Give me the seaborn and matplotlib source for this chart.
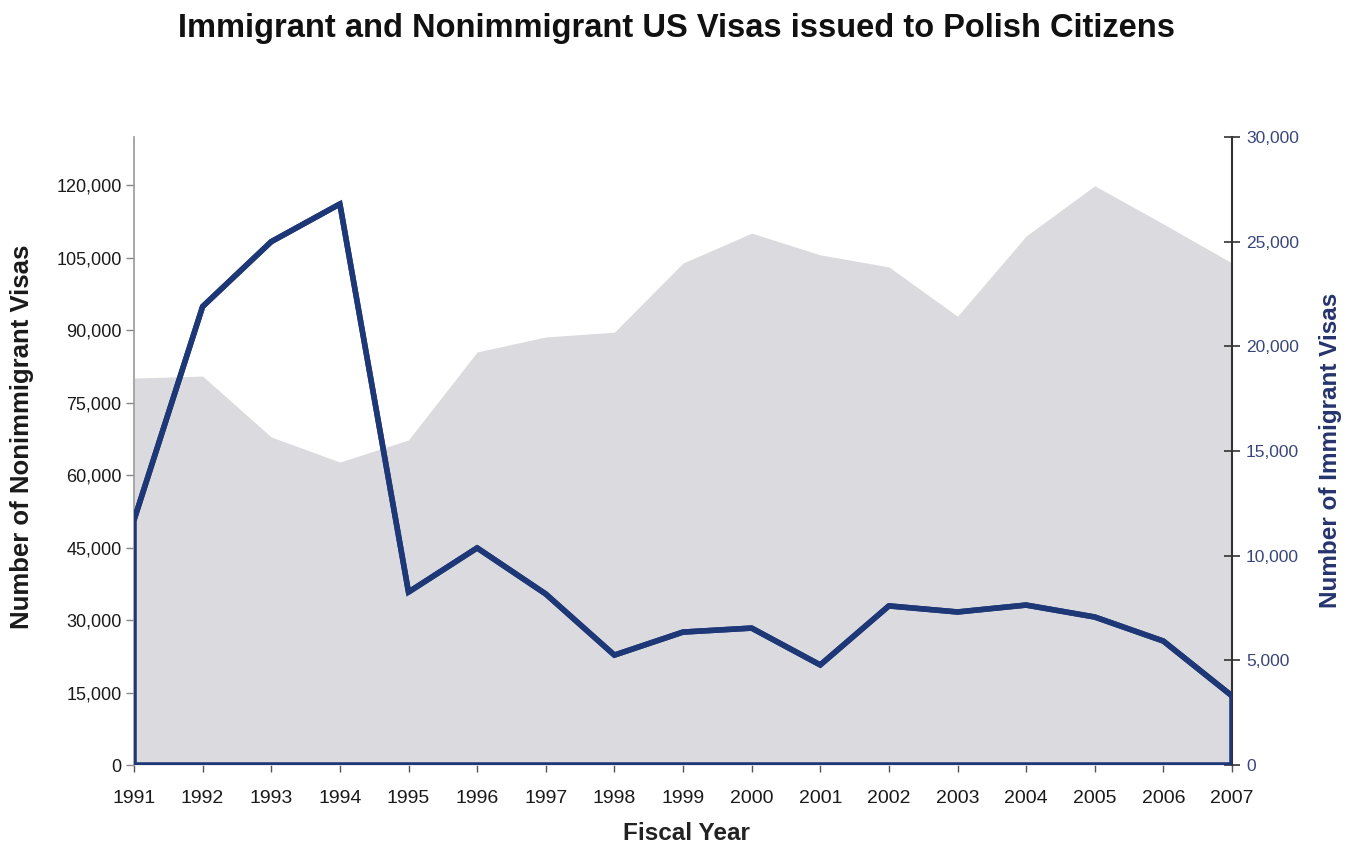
import matplotlib
matplotlib.use("Agg")
import matplotlib.pyplot as plt
import seaborn as sns
import numpy as np
import pandas as pd
from matplotlib.ticker import FuncFormatter, FixedLocator

years = [1991, 1992, 1993, 1994, 1995, 1996, 1997, 1998, 1999,
         2000, 2001, 2002, 2003, 2004, 2005, 2006, 2007]
nonimmigrant = [80100, 80500, 67900, 62700, 67300, 85500, 88600, 89600, 103900,
                110100, 105600, 103100, 92900, 109500, 119900, 112000, 103900]
immigrant = [11700, 21900, 25000, 26800, 8260, 10370, 8170, 5250, 6350,
             6540, 4780, 7600, 7310, 7640, 7070, 5920, 3300]
left_ticks = [0, 15000, 30000, 45000, 60000, 75000, 90000, 105000, 120000]
right_ticks = [0, 5000, 10000, 15000, 20000, 25000, 30000]

df = pd.DataFrame({"year": years, "nonimm": nonimmigrant, "imm": immigrant})

sns.set_theme(style="white")
plt.rcParams["font.family"] = ["Liberation Sans", "DejaVu Sans"]

NAVY = "#1d3777"
GRAY = "#dadadf"

fig = plt.figure(figsize=(13.52, 8.49), dpi=100)
ax = fig.add_axes([134/1352, 1 - 765/849, (1232-134)/1352, (765-137)/849])

ax.fill_between(df["year"], df["nonimm"], 0, color=GRAY, lw=0, zorder=1)
ax.set_xlim(1991, 2007)
ax.set_ylim(0, 130000)
ax.yaxis.set_major_locator(FixedLocator(left_ticks))
fmt = FuncFormatter(lambda v, p: f"{int(v):,}")
ax.yaxis.set_major_formatter(fmt)
ax.set_xticks(years)
ax.set_xticklabels([str(y) for y in years])

ax2 = ax.twinx()
ax2.set_ylim(0, 30000)
ax2.yaxis.set_major_locator(FixedLocator(right_ticks))
ax2.yaxis.set_major_formatter(fmt)
ax2.fill_between(df["year"], df["imm"], 0, facecolor="none", edgecolor=NAVY,
                 lw=4.0, joinstyle="miter", zorder=3)
sns.lineplot(data=df, x="year", y="imm", ax=ax2, color=NAVY, lw=4.0, zorder=4)
ax2.set_xlim(1991, 2007)
ax2.set_ylabel("")
ax.set_xlabel("")
ax.set_ylabel("")

for a in (ax, ax2):
    a.spines["top"].set_visible(False)
    a.spines["bottom"].set_visible(False)
ax2.spines["left"].set_visible(False)
ax.spines["right"].set_visible(False)
ax.spines["left"].set_color("#9a9a9a")
ax.spines["left"].set_linewidth(1.2)
ax2.spines["right"].set_color("#333333")
ax2.spines["right"].set_linewidth(1.5)

ax.tick_params(axis="y", which="major", left=True, length=6, width=1,
               color="#888888", labelsize=13, labelcolor="#1a1a1a", pad=3)
ax.tick_params(axis="x", which="major", bottom=True, length=5, width=1,
               color="#555555", labelsize=14, labelcolor="#1a1a1a", pad=13)
ax2.tick_params(axis="y", which="major", right=True, direction="inout",
                length=12, width=1.2, color="#333333", labelsize=12.5,
                labelcolor="#3a4679", pad=4)
ax2.tick_params(axis="x", bottom=False, labelbottom=False)

fig.text(0.5, 1 - 29/849, "Immigrant and Nonimmigrant US Visas issued to Polish Citizens",
         ha="center", va="center", fontsize=23.5, fontweight="bold", color="#111111")
fig.text(686/1352, 1 - 833/849, "Fiscal Year", ha="center", va="center",
         fontsize=17.5, fontweight="bold", color="#222222")
fig.text(22/1352, 1 - 437/849, "Number of Nonimmigrant Visas", ha="center", va="center",
         rotation=90, fontsize=18.5, fontweight="bold", color="#1a1a1a")
fig.text(1330/1352, 1 - 450/849, "Number of Immigrant Visas", ha="center", va="center",
         rotation=90, fontsize=17.5, fontweight="bold", color="#26346e")

fig.savefig("out.png", dpi=100)
